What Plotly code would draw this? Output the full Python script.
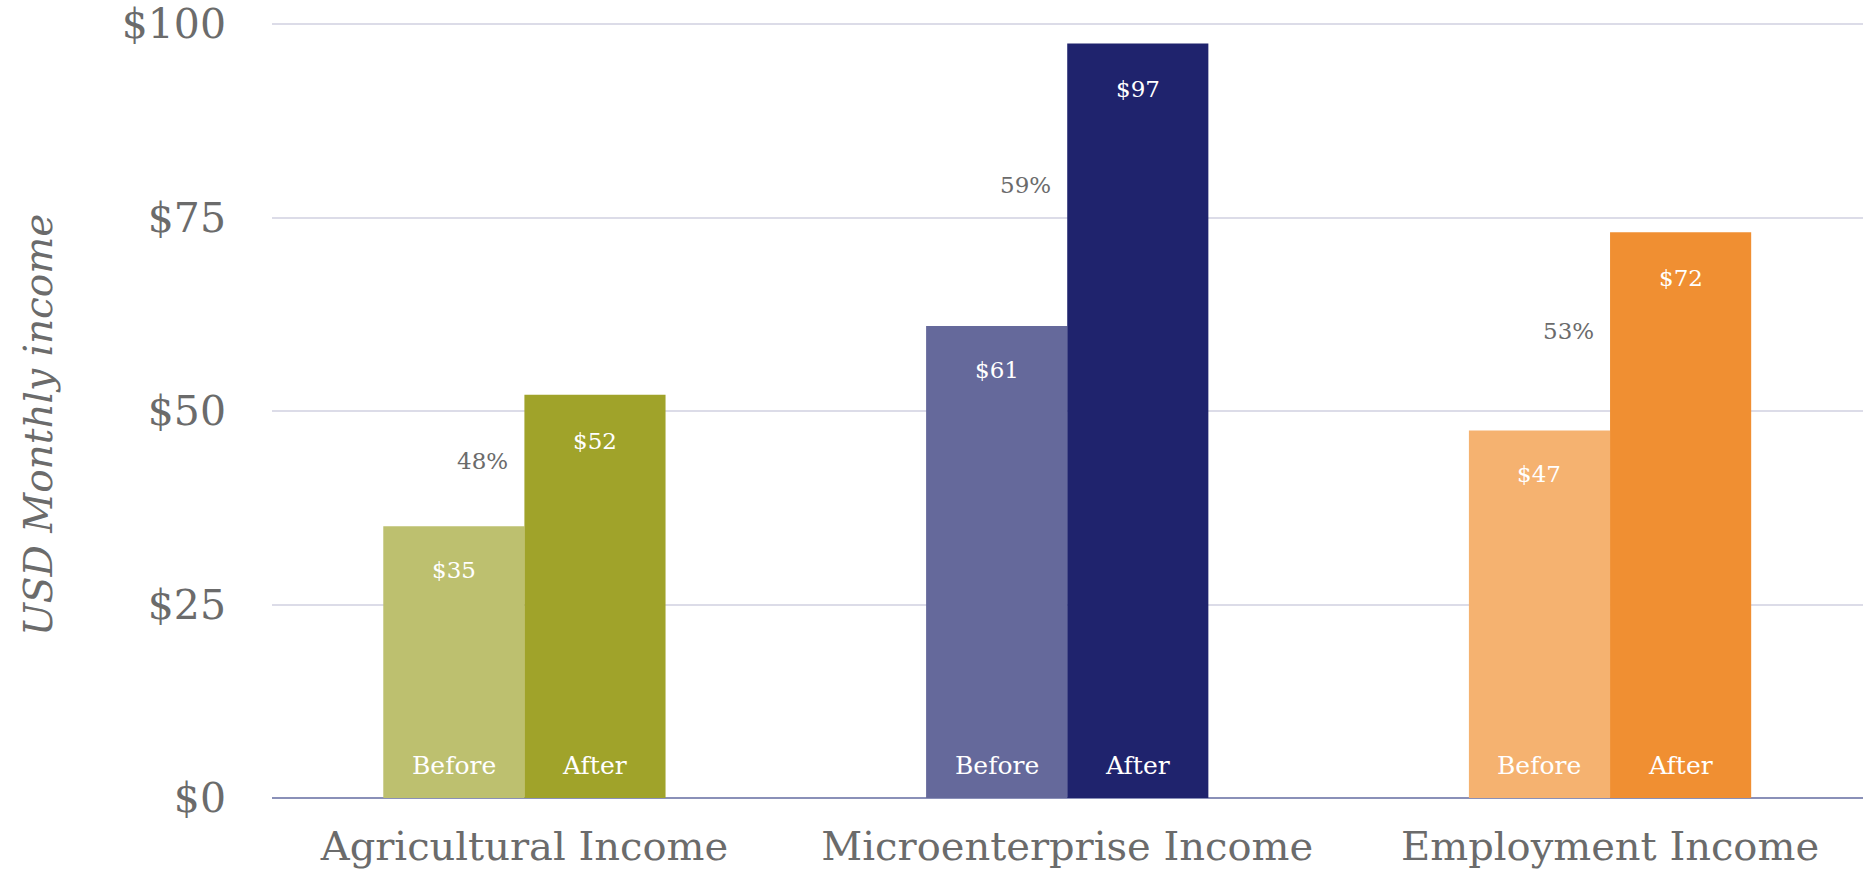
import plotly.graph_objects as go

categories = ["Agricultural Income", "Microenterprise Income", "Employment Income"]
before_values = [35.1, 61.0, 47.5]
after_values = [52.1, 97.5, 73.1]
before_labels = ["$35", "$61", "$47"]
after_labels = ["$52", "$97", "$72"]
pct_labels = ["48%", "59%", "53%"]
before_colors = ["#BDC06F", "#65699B", "#F5B270"]
after_colors = ["#A0A32A", "#1F236D", "#F08F32"]
y_ticks = [0, 25, 50, 75, 100]
y_tick_text = ["$0", "$25", "$50", "$75", "$100"]

FONT = "DejaVu Serif"
GRAY = "#6B6B6B"

fig = go.Figure()
fig.add_trace(go.Bar(x=categories, y=before_values, name="Before",
                     marker=dict(color=before_colors, line=dict(width=0)),
                     hoverinfo="skip"))
fig.add_trace(go.Bar(x=categories, y=after_values, name="After",
                     marker=dict(color=after_colors, line=dict(width=0)),
                     hoverinfo="skip"))

annotations = []
half = 0.13
for i, cat in enumerate(categories):
    b, a = before_values[i], after_values[i]
    annotations.append(dict(x=i - half, y=b, text=before_labels[i], showarrow=False,
                            yanchor="middle", yshift=-44,
                            font=dict(family=FONT, size=23, color="white")))
    annotations.append(dict(x=i + half, y=a, text=after_labels[i], showarrow=False,
                            yanchor="middle", yshift=-46,
                            font=dict(family=FONT, size=23, color="white")))
    annotations.append(dict(x=i - half, y=0, text="Before", showarrow=False,
                            yanchor="middle", yshift=33,
                            font=dict(family=FONT, size=25, color="white")))
    annotations.append(dict(x=i + half, y=0, text="After", showarrow=False,
                            yanchor="middle", yshift=33,
                            font=dict(family=FONT, size=25, color="white")))
    annotations.append(dict(x=i, y=(a + b) / 2, text=pct_labels[i], showarrow=False,
                            xanchor="right", yanchor="middle", xshift=-14,
                            font=dict(family=FONT, size=23, color=GRAY)))

annotations.append(dict(xref="paper", yref="paper", x=0, y=0.48, xshift=-234,
                        text="<i>USD Monthly income</i>", textangle=-90, showarrow=False,
                        xanchor="center", yanchor="middle",
                        font=dict(family=FONT, size=39, color=GRAY)))

fig.update_layout(
    template="none",
    width=1868, height=870,
    margin=dict(l=272, r=5, t=21, b=72, autoexpand=False),
    paper_bgcolor="white", plot_bgcolor="white",
    barmode="group", bargap=0.48, bargroupgap=0,
    showlegend=False,
    annotations=annotations,
    xaxis=dict(type="category", range=[-0.465, 2.466], showgrid=False,
               showline=False, zeroline=False, ticks="", automargin=False,
               tickfont=dict(family=FONT, size=40, color=GRAY),
               ticklabelstandoff=21),
    yaxis=dict(range=[0, 100.4], tickvals=y_ticks, ticktext=y_tick_text,
               showgrid=True, gridcolor="#DCDCE8", gridwidth=2,
               zeroline=True, zerolinecolor="#8A90B8", zerolinewidth=2,
               showline=False, ticks="", ticklabeloverflow="allow", automargin=False,
               tickfont=dict(family=FONT, size=41, color=GRAY),
               ticklabelstandoff=45),
)

fig.write_html("out.html", config={"displayModeBar": False},
               post_script="document.body.style.margin='0';document.body.style.overflow='hidden';")
